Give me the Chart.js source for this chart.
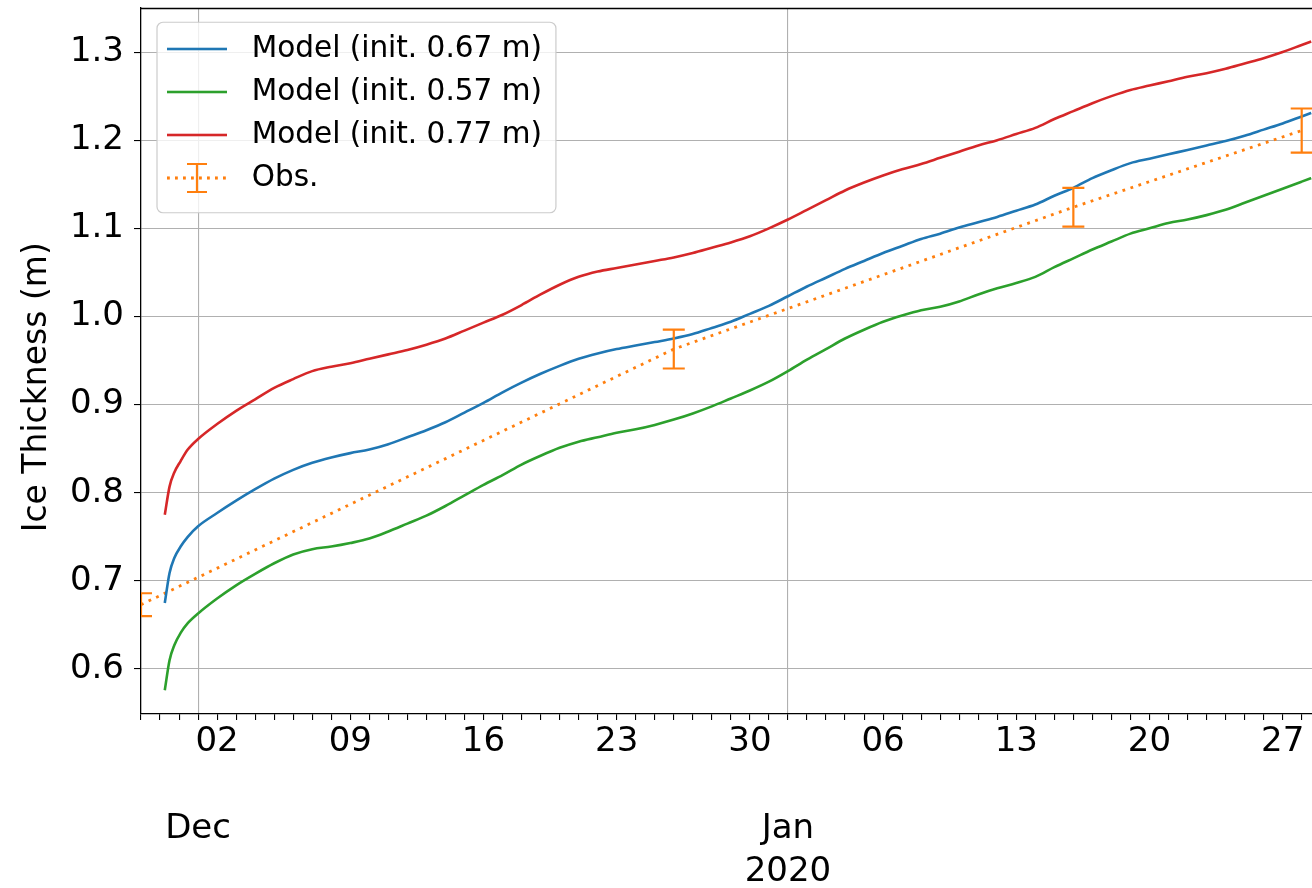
<!DOCTYPE html>
<html><head><meta charset="utf-8">
<script src="https://cdn.jsdelivr.net/npm/chart.js@4.4.1/dist/chart.umd.min.js"></script>
<style>html,body{margin:0;padding:0;background:#fff;overflow:hidden}#wrap{width:1312px;height:888px;position:relative}</style>
</head><body><div id="wrap"><canvas id="c"></canvas></div>
<script>
// ---------- data ----------
const refDate = '2019-12-01';
const modelDates = [
  '2019-11-29T06:00Z','2019-11-29T12:00Z','2019-11-29T18:00Z','2019-11-30T02:00Z','2019-11-30T11:00Z',
  '2019-12-01','2019-12-02','2019-12-03','2019-12-04','2019-12-05','2019-12-06','2019-12-07','2019-12-08','2019-12-09','2019-12-10',
  '2019-12-11','2019-12-12','2019-12-13','2019-12-14','2019-12-15','2019-12-16','2019-12-17','2019-12-18','2019-12-19','2019-12-20',
  '2019-12-21','2019-12-22','2019-12-23','2019-12-24','2019-12-25','2019-12-26','2019-12-27','2019-12-28','2019-12-29','2019-12-30',
  '2019-12-31','2020-01-01','2020-01-02','2020-01-03','2020-01-04','2020-01-05','2020-01-06','2020-01-07','2020-01-08','2020-01-09',
  '2020-01-10','2020-01-11','2020-01-12','2020-01-13','2020-01-14','2020-01-15','2020-01-16','2020-01-17','2020-01-18','2020-01-19',
  '2020-01-20','2020-01-21','2020-01-22','2020-01-23','2020-01-24','2020-01-25','2020-01-26','2020-01-27','2020-01-28',
  '2020-01-28T12:00Z'
];
const model067 = [0.675, 0.709, 0.726, 0.739, 0.750,
  0.762, 0.777, 0.791, 0.804, 0.816, 0.826, 0.834, 0.840, 0.845, 0.849,
  0.855, 0.863, 0.871, 0.880, 0.891, 0.902, 0.914, 0.925, 0.935, 0.944,
  0.952, 0.958, 0.963, 0.967, 0.971, 0.975, 0.980, 0.987, 0.994, 1.003,
  1.012, 1.023, 1.034, 1.044, 1.054, 1.063, 1.072, 1.080, 1.088, 1.094,
  1.101, 1.107, 1.113, 1.120, 1.127, 1.137, 1.146, 1.157, 1.166, 1.174,
  1.179, 1.184, 1.189, 1.194, 1.199, 1.205, 1.212, 1.219, 1.227,
  1.231];
const model057 = [0.576, 0.610, 0.627, 0.641, 0.652,
  0.663, 0.680, 0.695, 0.708, 0.720, 0.730, 0.736, 0.739, 0.743, 0.748,
  0.756, 0.765, 0.774, 0.785, 0.797, 0.809, 0.820, 0.832, 0.842, 0.851,
  0.858, 0.863, 0.868, 0.872, 0.877, 0.883, 0.890, 0.898, 0.907, 0.916,
  0.926, 0.938, 0.951, 0.963, 0.975, 0.985, 0.994, 1.001, 1.007, 1.011,
  1.017, 1.025, 1.032, 1.038, 1.045, 1.056, 1.066, 1.076, 1.085, 1.094,
  1.100, 1.106, 1.110, 1.115, 1.121, 1.129, 1.137, 1.145, 1.153,
  1.157];
const model077 = [0.775, 0.807, 0.823, 0.836, 0.849,
  0.861, 0.878, 0.893, 0.906, 0.919, 0.929, 0.938, 0.943, 0.947, 0.952,
  0.957, 0.962, 0.968, 0.975, 0.984, 0.993, 1.002, 1.013, 1.025, 1.036,
  1.045, 1.051, 1.055, 1.059, 1.063, 1.067, 1.072, 1.078, 1.084, 1.091,
  1.100, 1.110, 1.121, 1.132, 1.143, 1.152, 1.160, 1.167, 1.173, 1.180,
  1.187, 1.194, 1.200, 1.207, 1.214, 1.224, 1.233, 1.242, 1.250, 1.257,
  1.262, 1.267, 1.272, 1.276, 1.281, 1.287, 1.293, 1.300, 1.308,
  1.312];
const obsDates = ['2019-11-28', '2019-12-26', '2020-01-16', '2020-01-28'];
const obsValues = [0.673, 0.963, 1.124, 1.211];
const obsErrors = [0.013, 0.022, 0.022, 0.025];
const seriesLabels = ['Model (init. 0.67 m)', 'Model (init. 0.57 m)', 'Model (init. 0.77 m)', 'Obs.'];
const seriesColors = ['#1f77b4', '#2ca02c', '#d62728', '#ff7f0e'];
const yTicks = [0.6, 0.7, 0.8, 0.9, 1.0, 1.1, 1.2, 1.3];
const yTitle = 'Ice Thickness (m)';
const dayTickDates = ['2019-12-02','2019-12-09','2019-12-16','2019-12-23','2019-12-30','2020-01-06','2020-01-13','2020-01-20','2020-01-27'];
const dayTickLabels = ['02','09','16','23','30','06','13','20','27'];
const monthTickDates = ['2019-12-01', '2020-01-01'];
const monthTickLabels = [['', '', 'Dec'], ['', '', 'Jan', '2020']];
const xMinDate = '2019-11-28';
const xMaxDate = '2020-01-28T13:00Z';
const yMin = 0.549, yMax = 1.350;

// ---------- helpers ----------
const DAY = 86400000;
const toDay = s => (Date.parse(s) - Date.parse(refDate)) / DAY;
const modelDays = modelDates.map(toDay);
const obsDays = obsDates.map(toDay);
const dayTickDays = dayTickDates.map(toDay);
const monthTickDays = monthTickDates.map(toDay);
const xMin = toDay(xMinDate), xMax = toDay(xMaxDate);
const pts = (xs, ys) => xs.map((d, i) => ({x: d, y: ys[i]}));

Chart.defaults.font.family = "'DejaVu Sans', sans-serif";
Chart.defaults.color = '#000';

// legend glyphs
function glyph(color, obs) {
  const c = document.createElement('canvas');
  c.width = 70; c.height = 34;
  const g = c.getContext('2d');
  g.strokeStyle = color;
  if (obs) {
    g.lineWidth = 2.8; g.setLineDash([2.8, 5.2]);
    g.beginPath(); g.moveTo(0, 17); g.lineTo(60, 17); g.stroke();
    g.setLineDash([]); g.lineWidth = 2.2;
    g.beginPath(); g.moveTo(30, 3); g.lineTo(30, 31);
    g.moveTo(20, 3); g.lineTo(40, 3); g.moveTo(20, 31); g.lineTo(40, 31); g.stroke();
  } else {
    g.lineWidth = 2.6;
    g.beginPath(); g.moveTo(0, 17); g.lineTo(60, 17); g.stroke();
  }
  return c;
}
const glyphs = seriesColors.map((c, i) => glyph(c, i === 3));

const errorBars = {
  id: 'errorBars',
  afterDatasetsDraw(chart) {
    const {ctx, chartArea: a, scales: {x, y}} = chart;
    ctx.save();
    ctx.beginPath(); ctx.rect(a.left, a.top, a.width, a.height); ctx.clip();
    ctx.strokeStyle = seriesColors[3]; ctx.lineWidth = 2.2;
    obsDays.forEach((d, i) => {
      const px = x.getPixelForValue(d);
      const y0 = y.getPixelForValue(obsValues[i] - obsErrors[i]);
      const y1 = y.getPixelForValue(obsValues[i] + obsErrors[i]);
      ctx.beginPath();
      ctx.moveTo(px, y0); ctx.lineTo(px, y1);
      ctx.moveTo(px - 11, y0); ctx.lineTo(px + 11, y0);
      ctx.moveTo(px - 11, y1); ctx.lineTo(px + 11, y1);
      ctx.stroke();
    });
    ctx.restore();
  }
};

// move the in-chart legend a little inside the axes (like matplotlib's loc='upper left')
const legendShift = {
  id: 'legendShift',
  afterUpdate(chart) {
    const lg = chart.legend, a = chart.chartArea, hb = lg.legendHitBoxes;
    if (!hb || !hb.length) return;
    const dx = a.left + 26 - hb[0].left;
    const dy = a.top + 41 - (hb[0].top + hb[0].height / 2);
    lg.left += dx; lg.right += dx; lg.top += dy; lg.bottom += dy;
    hb.forEach(h => { h.left += dx; h.top += dy; });
  }
};

const frameAndLegendBox = {
  id: 'frameAndLegendBox',
  afterDraw(chart) {
    const {ctx, chartArea: a} = chart;
    ctx.save();
    ctx.strokeStyle = '#000'; ctx.lineWidth = 1.3;
    ctx.beginPath(); ctx.moveTo(a.left, a.top + 0.5); ctx.lineTo(a.right, a.top + 0.5); ctx.stroke();
    const lg = chart.legend;
    const hb = lg.legendHitBoxes;
    if (hb && hb.length) {
      const x0 = Math.min(...hb.map(h => h.left)) - 10;
      const y0 = Math.min(...hb.map(h => h.top)) - 12;
      const x1 = Math.max(...hb.map(h => h.left + h.width)) + 14;
      const y1 = Math.max(...hb.map(h => h.top + h.height)) + 20;
      ctx.beginPath();
      ctx.roundRect(x0, y0, x1 - x0, y1 - y0, 6);
      ctx.fillStyle = 'rgba(255,255,255,0.8)'; ctx.fill();
      ctx.strokeStyle = '#cccccc'; ctx.lineWidth = 1.2; ctx.stroke();
    }
    ctx.restore();
    lg.draw();
  }
};

new Chart(document.getElementById('c'), {
  type: 'line',
  data: {
    datasets: [
      {label: seriesLabels[0], data: pts(modelDays, model067), borderColor: seriesColors[0]},
      {label: seriesLabels[1], data: pts(modelDays, model057), borderColor: seriesColors[1]},
      {label: seriesLabels[2], data: pts(modelDays, model077), borderColor: seriesColors[2]},
      {label: seriesLabels[3], data: pts(obsDays, obsValues), borderColor: seriesColors[3],
       borderDash: [2.8, 5.6], borderWidth: 2.8, tension: 0, cubicInterpolationMode: 'default'}
    ].map(d => Object.assign({borderWidth: 2.6, pointRadius: 0, fill: false, cubicInterpolationMode: 'monotone'}, d))
  },
  options: {
    responsive: true, maintainAspectRatio: false, animation: false,
    layout: {padding: {top: 8, left: 0, right: 0, bottom: 0}},
    plugins: {
      tooltip: {enabled: false},
      legend: {
        position: 'chartArea', align: 'start',
        labels: {
          usePointStyle: true, pointStyleWidth: 70, padding: 13.5,
          font: {size: 29.5}, color: '#111',
          generateLabels: chart => chart.data.datasets.map((ds, i) => ({
            text: ds.label, pointStyle: glyphs[i], strokeStyle: ds.borderColor, fillStyle: ds.borderColor,
            lineWidth: 0, hidden: false, datasetIndex: i
          }))
        }
      }
    },
    scales: {
      x: {
        type: 'linear', min: xMin, max: xMax, bounds: 'data',
        afterBuildTicks: s => {
          const t = [];
          for (let d = Math.ceil(xMin); d <= Math.floor(xMax); d++) t.push({value: d});
          s.ticks = t;
        },
        afterFit: s => { s.height = 174; s.paddingLeft = 0; s.paddingRight = 0; },
        ticks: {
          autoSkip: false, maxRotation: 0, minRotation: 0, padding: 0,
          font: {size: 34, lineHeight: 1.28}, color: '#000',
          callback: v => {
            let k = monthTickDays.findIndex(d => Math.abs(d - v) < 0.01);
            if (k >= 0) return monthTickLabels[k];
            k = dayTickDays.findIndex(d => Math.abs(d - v) < 0.01);
            return k >= 0 ? dayTickLabels[k] : '';
          }
        },
        grid: {
          color: c => (c.tick && monthTickDays.some(d => Math.abs(d - c.tick.value) < 0.01)) ? '#b0b0b0' : 'rgba(0,0,0,0)',
          tickColor: '#000', tickLength: 6, lineWidth: 1.1
        },
        border: {color: '#000', width: 1.3}
      },
      y: {
        type: 'linear', min: yMin, max: yMax, bounds: 'data',
        afterBuildTicks: s => { s.ticks = yTicks.map(v => ({value: v})); },
        afterFit: s => { s.width = 141; s.paddingTop = 0; s.paddingBottom = 0; },
        ticks: {padding: 10, font: {size: 34}, color: '#000', callback: v => v.toFixed(1)},
        grid: {color: '#b0b0b0', tickColor: '#000', tickLength: 7, lineWidth: 1.1},
        border: {color: '#000', width: 1.3},
        // trailing spaces nudge the centred title down, as in the original figure
        title: {display: true, text: yTitle + '     ', font: {size: 33, lineHeight: 1.2}, color: '#000', padding: {top: 18, bottom: 0}}
      }
    }
  },
  plugins: [errorBars, legendShift, frameAndLegendBox]
});
</script>
</body></html>
